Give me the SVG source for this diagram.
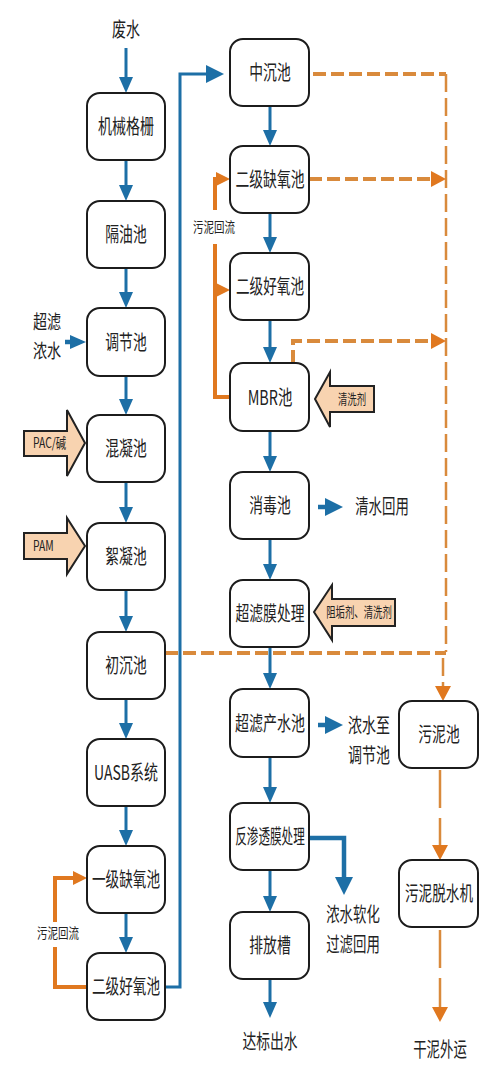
<svg xmlns="http://www.w3.org/2000/svg" width="500" height="1089" viewBox="0 0 500 1089">
<style>
.box{fill:#fff;stroke:#1c1c1c;stroke-width:2}
.t{font-family:"Noto Sans CJK SC","Liberation Sans",sans-serif;font-size:20px;fill:#222;text-anchor:middle}
.s{font-family:"Noto Sans CJK SC","Liberation Sans",sans-serif;font-size:14px;fill:#222;text-anchor:middle}
.b{fill:none;stroke:#1d6fa6;stroke-width:3}
.bt{fill:none;stroke:#1d6fa6;stroke-width:4.5}
.o{fill:none;stroke:#e0781f;stroke-width:4}
.dh{fill:none;stroke:#d98a3c;stroke-width:4;stroke-dasharray:13 5}
.dv{fill:none;stroke:#d98a3c;stroke-width:2.5;stroke-dasharray:18 6}
.dl{fill:none;stroke:#d98a3c;stroke-width:2.5;stroke-dasharray:38 10}
.peach{fill:#f8d3b0;stroke:#222;stroke-width:2}
</style>
<defs>
<marker id="ab" markerUnits="userSpaceOnUse" markerWidth="16" markerHeight="14" refX="10" refY="7" orient="auto"><path d="M0,0 L16,7 L0,14 z" fill="#1d6fa6"/></marker>
<marker id="abl" markerUnits="userSpaceOnUse" markerWidth="18" markerHeight="18" refX="12" refY="9" orient="auto"><path d="M0,0 L18,9 L0,18 z" fill="#1d6fa6"/></marker>
<marker id="ao" markerUnits="userSpaceOnUse" markerWidth="14" markerHeight="14" refX="8" refY="7" orient="auto"><path d="M0,0 L14,7 L0,14 z" fill="#e0781f"/></marker>
<marker id="ad" markerUnits="userSpaceOnUse" markerWidth="15" markerHeight="16" refX="9" refY="8" orient="auto"><path d="M0,0 L15,8 L0,16 z" fill="#e0781f"/></marker>
</defs>

<g id="connectors">
<path class="dh" d="M313,74 H446"/>
<path class="dv" d="M446,74 V652"/>
<path class="dh" d="M309,179 H440" marker-end="url(#ad)"/>
<path class="dh" d="M293,363 V341 H440" marker-end="url(#ad)"/>
<path class="dh" d="M165,653 H446"/>
<path class="dv" d="M443,658 V695" marker-end="url(#ad)"/>
<path class="dl" d="M440,770 V854" marker-end="url(#ad)"/>
<path class="dl" d="M440,930 V1016" marker-end="url(#ad)"/>
<path class="b" d="M126,48 V87" marker-end="url(#ab)"/>
<path class="b" d="M126,160 V195" marker-end="url(#ab)"/>
<path class="b" d="M126,268 V302" marker-end="url(#ab)"/>
<path class="b" d="M126,376 V409" marker-end="url(#ab)"/>
<path class="b" d="M126,482 V517" marker-end="url(#ab)"/>
<path class="b" d="M126,590 V626" marker-end="url(#ab)"/>
<path class="b" d="M126,699 V733" marker-end="url(#ab)"/>
<path class="b" d="M126,806 V840" marker-end="url(#ab)"/>
<path class="b" d="M126,913 V947" marker-end="url(#ab)"/>
<path class="bt" d="M65,342 H80" marker-end="url(#ab)"/>
<path class="b" d="M165,987 H180 V74 H218" marker-end="url(#abl)"/>
<path class="b" d="M270,106 V140" marker-end="url(#ab)"/>
<path class="b" d="M270,213 V247" marker-end="url(#ab)"/>
<path class="b" d="M270,320 V357" marker-end="url(#ab)"/>
<path class="b" d="M270,431 V466" marker-end="url(#ab)"/>
<path class="b" d="M270,539 V574" marker-end="url(#ab)"/>
<path class="b" d="M270,647 V683" marker-end="url(#ab)"/>
<path class="b" d="M270,757 V797" marker-end="url(#ab)"/>
<path class="b" d="M270,870 V906" marker-end="url(#ab)"/>
<path class="b" d="M270,979 V1012" marker-end="url(#ab)"/>
<path class="bt" d="M318,507 H337" marker-end="url(#abl)"/>
<path class="bt" d="M318,725 H337" marker-end="url(#abl)"/>
<path class="bt" d="M309,838 H344 V889" marker-end="url(#abl)"/>
<path class="o" d="M87,987 H55 V947"/>
<path class="o" d="M55,922 V878 H81" marker-end="url(#ao)"/>
<path class="o" d="M230,397 H215 V244"/>
<path class="o" d="M215,210 V179 H224" marker-end="url(#ao)"/>
<path class="o" d="M215,290 H224" marker-end="url(#ao)"/>
</g>

<g id="labels">
<text class="t" transform="translate(126,37) scale(0.7,1)">废水</text>
<text class="t" style="font-size:19px" transform="translate(47,329) scale(0.74,1)">超滤</text>
<text class="t" style="font-size:19px" transform="translate(47,358) scale(0.74,1)">浓水</text>
<text class="s" transform="translate(58,938) scale(0.75,1)">污泥回流</text>
<text class="s" transform="translate(214,232) scale(0.75,1)">污泥回流</text>
<text class="t" transform="translate(382,514) scale(0.67,1)">清水回用</text>
<text class="t" transform="translate(369,733) scale(0.7,1)">浓水至</text>
<text class="t" transform="translate(369,763) scale(0.7,1)">调节池</text>
<text class="t" transform="translate(353,922) scale(0.67,1)">浓水软化</text>
<text class="t" transform="translate(353,952) scale(0.67,1)">过滤回用</text>
<text class="t" transform="translate(270,1049) scale(0.69,1)">达标出水</text>
<text class="t" transform="translate(440,1057) scale(0.67,1)">干泥外运</text>
</g>

<g id="dose-pac">
<path class="peach" d="M24,431 H67 V410 L85,443 L67,476 V456 H24 z"/>
<text class="s" style="text-anchor:start" transform="translate(33,448) scale(0.74,1)">PAC/碱</text>
</g>
<g id="dose-pam">
<path class="peach" d="M24,533 H67 V518 L85,546 L67,574 V559 H24 z"/>
<text class="s" style="text-anchor:start" transform="translate(33,551) scale(0.74,1)">PAM</text>
</g>
<g id="dose-clean">
<path class="peach" d="M315,399 L330,372 V386 H374 V412 H330 V427 z"/>
<text class="s" transform="translate(352,404) scale(0.67,1)">清洗剂</text>
</g>
<g id="dose-antiscalant">
<path class="peach" d="M314,612 L332,585 V599 H395 V626 H332 V640 z"/>
<text class="s" transform="translate(359,617) scale(0.67,1)">阻垢剂、清洗剂</text>
</g>

<g id="n-jxgs"><rect class="box" x="87" y="93" width="78" height="67" rx="13"/><text class="t" transform="translate(126,134) scale(0.7,1)">机械格栅</text></g>
<g id="n-gyc"><rect class="box" x="87" y="201" width="78" height="67" rx="13"/><text class="t" transform="translate(126,242) scale(0.69,1)">隔油池</text></g>
<g id="n-tjc"><rect class="box" x="87" y="308" width="78" height="68" rx="13"/><text class="t" transform="translate(126,350) scale(0.69,1)">调节池</text></g>
<g id="n-hnc"><rect class="box" x="87" y="415" width="78" height="67" rx="13"/><text class="t" transform="translate(126,456) scale(0.69,1)">混凝池</text></g>
<g id="n-xnc"><rect class="box" x="87" y="523" width="78" height="67" rx="13"/><text class="t" transform="translate(126,564) scale(0.69,1)">絮凝池</text></g>
<g id="n-ccc"><rect class="box" x="87" y="632" width="78" height="67" rx="13"/><text class="t" transform="translate(126,673) scale(0.69,1)">初沉池</text></g>
<g id="n-uasb"><rect class="box" x="87" y="739" width="78" height="67" rx="13"/><text class="t" transform="translate(126,780) scale(0.7,1)">UASB系统</text></g>
<g id="n-yjqy"><rect class="box" x="87" y="846" width="78" height="67" rx="13"/><text class="t" transform="translate(126,887) scale(0.68,1)">一级缺氧池</text></g>
<g id="n-ejhy1"><rect class="box" x="87" y="953" width="78" height="67" rx="13"/><text class="t" transform="translate(126,994) scale(0.68,1)">二级好氧池</text></g>

<g id="n-zcc"><rect class="box" x="230" y="39" width="79" height="67" rx="13"/><text class="t" transform="translate(270,80) scale(0.69,1)">中沉池</text></g>
<g id="n-ejqy"><rect class="box" x="230" y="146" width="79" height="67" rx="13"/><text class="t" transform="translate(270,187) scale(0.69,1)">二级缺氧池</text></g>
<g id="n-ejhy2"><rect class="box" x="230" y="253" width="79" height="67" rx="13"/><text class="t" transform="translate(270,294) scale(0.68,1)">二级好氧池</text></g>
<g id="n-mbr"><rect class="box" x="230" y="363" width="79" height="68" rx="13"/><text class="t" transform="translate(270,405) scale(0.72,1)">MBR池</text></g>
<g id="n-xdc"><rect class="box" x="230" y="472" width="79" height="67" rx="13"/><text class="t" transform="translate(270,513) scale(0.69,1)">消毒池</text></g>
<g id="n-clm"><rect class="box" x="230" y="580" width="79" height="67" rx="13"/><text class="t" transform="translate(270,621) scale(0.69,1)">超滤膜处理</text></g>
<g id="n-clcs"><rect class="box" x="230" y="689" width="79" height="68" rx="13"/><text class="t" transform="translate(270,731) scale(0.7,1)">超滤产水池</text></g>
<g id="n-fst"><rect class="box" x="230" y="803" width="79" height="67" rx="13"/><text class="t" transform="translate(270,844) scale(0.58,1)">反渗透膜处理</text></g>
<g id="n-pfc"><rect class="box" x="230" y="912" width="79" height="67" rx="13"/><text class="t" transform="translate(270,953) scale(0.69,1)">排放槽</text></g>

<g id="n-wnc"><rect class="box" x="399" y="701" width="79" height="67" rx="13"/><text class="t" transform="translate(439,742) scale(0.69,1)">污泥池</text></g>
<g id="n-wntsj"><rect class="box" x="399" y="860" width="79" height="67" rx="13"/><text class="t" transform="translate(439,901) scale(0.68,1)">污泥脱水机</text></g>
</svg>
